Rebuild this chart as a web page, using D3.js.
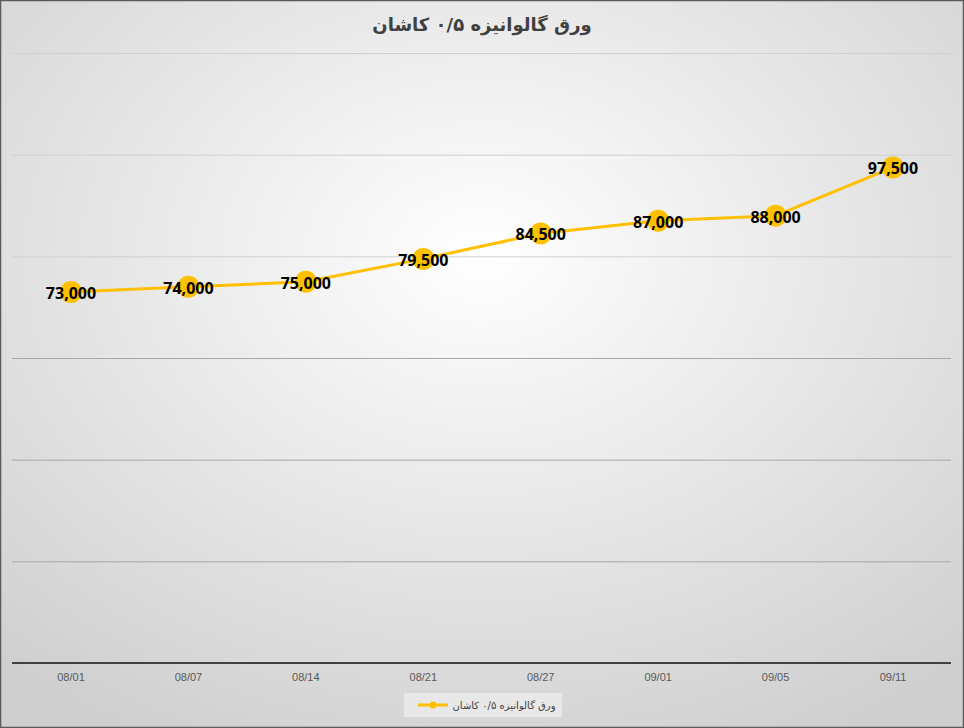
<!DOCTYPE html>
<html><head><meta charset="utf-8">
<script src="https://cdn.jsdelivr.net/npm/d3@7"></script>
<style>body{margin:0;background:#fff}svg{display:block}</style>
</head><body>
<script>
const categories = ["08/01","08/07","08/14","08/21","08/27","09/01","09/05","09/11"];
const values = [73000,74000,75000,79500,84500,87000,88000,97500];
const yTicks = [0,20000,40000,60000,80000,100000,120000];
const title = "ورق گالوانیزه ۰/۵ کاشان";

const W=964,H=728;
const svg=d3.select("body").append("svg").attr("width",W).attr("height",H);
const defs=svg.append("defs");
const g=defs.append("radialGradient").attr("id","bg").attr("cx","50%").attr("cy","35%").attr("r","75%");
g.append("stop").attr("offset","0%").attr("stop-color","#ffffff");
g.append("stop").attr("offset","100%").attr("stop-color","#cfcfcf");
svg.append("rect").attr("x",0.5).attr("y",0.5).attr("width",W-1).attr("height",H-1)
  .attr("fill","url(#bg)").attr("stroke","#5a5a5a").attr("stroke-width",1.5);

const x=d3.scalePoint().domain(categories).range([71,893]);
const y=d3.scaleLinear().domain([0,120000]).range([663,53]);

svg.append("g").selectAll("line").data(yTicks.slice(1)).join("line")
  .attr("x1",12).attr("x2",951).attr("y1",d=>y(d)+0.5).attr("y2",d=>y(d)+0.5)
  .attr("stroke",(d,i)=>i>=3?"#d0d0d0":"#a8a8a8").attr("stroke-width",1);
svg.append("line").attr("x1",12).attr("x2",951).attr("y1",y(0)).attr("y2",y(0))
  .attr("stroke","#404040").attr("stroke-width",2);

svg.append("g").selectAll("text").data(categories).join("text")
  .attr("x",d=>x(d)).attr("y",681).attr("text-anchor","middle")
  .attr("font-family","Liberation Sans, Arial").attr("font-size",11).attr("fill","#595959").text(d=>d);

svg.append("text").attr("x",482).attr("y",31).attr("text-anchor","middle")
  .attr("font-family","DejaVu Sans, Noto Sans").attr("font-weight","bold").attr("font-size",18)
  .attr("fill","#404040").text(title);

svg.append("path").datum(values).attr("fill","none").attr("stroke","#ffc000").attr("stroke-width",3)
  .attr("d",d3.line().x((d,i)=>x(categories[i])).y(d=>y(d)));
svg.append("g").selectAll("circle").data(values).join("circle")
  .attr("cx",(d,i)=>x(categories[i])).attr("cy",d=>y(d)).attr("r",11).attr("fill","#ffc000");
svg.append("g").selectAll("text").data(values).join("text")
  .attr("x",(d,i)=>x(categories[i])).attr("y",d=>y(d)+7).attr("text-anchor","middle")
  .attr("font-family","Open Sans, Liberation Sans").attr("font-weight","bold").attr("font-size",16)
  .attr("fill","#000").text(d=>d3.format(",")(d));

const lg=svg.append("g");
lg.append("rect").attr("x",404).attr("y",693).attr("width",158).attr("height",24).attr("fill","#e8e8e8");
lg.append("line").attr("x1",418).attr("x2",448).attr("y1",705).attr("y2",705).attr("stroke","#ffc000").attr("stroke-width",3);
lg.append("circle").attr("cx",433).attr("cy",705).attr("r",3.5).attr("fill","#ffc000");
lg.append("text").attr("x",504).attr("y",709).attr("text-anchor","middle")
  .attr("font-family","DejaVu Sans").attr("font-size",10).attr("fill","#404040").text(title);
</script>
</body></html>
